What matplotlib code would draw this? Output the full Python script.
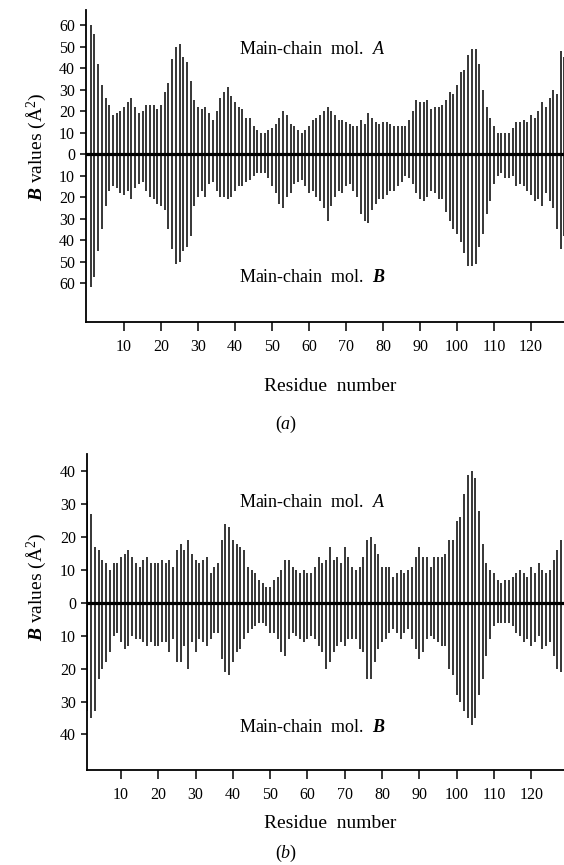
import numpy as np
import matplotlib
matplotlib.use('Agg')
import matplotlib.pyplot as plt

plt.rcParams['font.family'] = ['Liberation Serif', 'DejaVu Serif']
plt.rcParams['mathtext.fontset'] = 'custom'
plt.rcParams['mathtext.rm'] = 'Liberation Serif'
plt.rcParams['mathtext.it'] = 'Liberation Serif:italic'
plt.rcParams['mathtext.bf'] = 'Liberation Serif:bold:italic'

residues = np.arange(1, 130)

# Panel (a): main-chain B values, mol. A (up) and mol. B (down)
a_molA = [60, 56, 42, 32, 26, 23, 18, 19, 20, 22, 24, 26, 22, 19, 20, 23, 23, 23, 21, 23,
          29, 33, 44, 50, 51, 45, 43, 34, 25, 22, 21, 22, 19, 16, 20, 26, 29, 31, 27, 24,
          22, 21, 17, 17, 13, 11, 10, 10, 11, 12, 14, 17, 20, 18, 14, 13, 11, 10, 11, 13,
          16, 17, 18, 20, 22, 20, 18, 16, 16, 15, 14, 13, 13, 16, 14, 19, 17, 15, 14, 15,
          15, 14, 13, 13, 13, 13, 16, 20, 25, 24, 24, 25, 21, 22, 22, 23, 25, 29, 28, 32,
          38, 39, 46, 49, 49, 42, 30, 22, 17, 13, 10, 10, 10, 10, 12, 15, 15, 16, 15, 18,
          17, 20, 24, 22, 26, 30, 28, 48, 45]
a_molB = [62, 57, 45, 35, 24, 17, 15, 16, 18, 19, 17, 21, 16, 14, 13, 17, 20, 21, 23, 24,
          26, 35, 44, 51, 50, 45, 43, 38, 24, 20, 17, 20, 14, 13, 17, 20, 20, 21, 20, 17,
          15, 15, 13, 12, 10, 9, 9, 9, 11, 15, 18, 23, 25, 20, 18, 14, 13, 12, 15, 18,
          17, 20, 22, 25, 31, 24, 20, 17, 18, 15, 14, 17, 20, 28, 31, 32, 26, 23, 21, 21,
          19, 17, 17, 15, 13, 10, 11, 14, 18, 21, 22, 20, 17, 18, 21, 21, 27, 31, 35, 37,
          41, 46, 52, 52, 51, 43, 37, 28, 22, 14, 10, 9, 11, 11, 10, 15, 14, 15, 17, 19,
          22, 21, 24, 18, 22, 25, 35, 44, 38]

# Panel (b)
b_molA = [31, 27, 17, 16, 13, 12, 10, 12, 12, 14, 15, 16, 14, 12, 11, 13, 14, 12, 12, 12,
          13, 12, 13, 11, 16, 18, 16, 19, 15, 13, 12, 13, 14, 9, 11, 12, 19, 24, 23, 19,
          18, 17, 16, 11, 10, 9, 7, 6, 5, 5, 7, 8, 10, 13, 13, 11, 10, 9, 10, 9,
          9, 11, 14, 12, 13, 17, 13, 14, 12, 17, 14, 11, 10, 11, 14, 19, 20, 18, 15, 11,
          11, 11, 8, 9, 10, 9, 10, 11, 14, 17, 14, 14, 11, 14, 14, 14, 15, 19, 19, 25,
          26, 33, 39, 40, 38, 28, 18, 12, 10, 9, 7, 6, 7, 7, 8, 9, 10, 9, 8, 11,
          9, 12, 10, 9, 10, 13, 16, 19, 17]
b_molB = [33, 35, 33, 23, 20, 18, 15, 10, 9, 12, 14, 13, 10, 11, 11, 12, 13, 12, 13, 13,
          12, 12, 15, 11, 18, 18, 13, 20, 12, 15, 11, 12, 13, 11, 9, 9, 17, 21, 22, 18,
          15, 14, 11, 9, 8, 7, 6, 6, 7, 9, 9, 11, 15, 16, 11, 9, 10, 11, 12, 11,
          10, 11, 13, 15, 20, 18, 15, 13, 12, 13, 11, 11, 11, 14, 15, 23, 23, 18, 14, 12,
          11, 9, 8, 9, 11, 9, 8, 11, 14, 17, 15, 11, 10, 11, 12, 13, 13, 20, 22, 28,
          30, 33, 35, 37, 35, 28, 23, 16, 11, 7, 6, 6, 6, 6, 7, 9, 10, 12, 11, 13,
          12, 10, 14, 13, 12, 16, 20, 21, 19]

a_yticks = [60, 50, 40, 30, 20, 10, 0, -10, -20, -30, -40, -50, -60]
b_yticks = [40, 30, 20, 10, 0, -10, -20, -30, -40]
xticks = [10, 20, 30, 40, 50, 60, 70, 80, 90, 100, 110, 120]

W, H = 564, 865
fig = plt.figure(figsize=(W / 100, H / 100), dpi=100)


def px_axes(left, top, right, bottom):
    return fig.add_axes([left / W, 1 - bottom / H, (right - left) / W, (bottom - top) / H])


def panel(ax, up, down, yticks, xlim, ylim):
    for s in ('top', 'right'):
        ax.spines[s].set_visible(False)
    for s in ('left', 'bottom'):
        ax.spines[s].set_linewidth(1.3)
    ax.vlines(residues, 0, up, colors='k', linewidth=1.1)
    ax.vlines(residues, [-v for v in down], 0, colors='k', linewidth=1.1)
    ax.axhline(0, color='k', linewidth=2.3)
    ax.set_xlim(*xlim)
    ax.set_ylim(*ylim)
    ax.set_yticks(yticks)
    ax.set_yticklabels([str(abs(v)) for v in yticks])
    ax.set_xticks(xticks)
    ax.set_xticklabels([str(v) for v in xticks])
    ax.tick_params(axis='y', direction='out', length=4.5, width=1.1, pad=3.5, labelsize=11.5)
    ax.tick_params(axis='x', direction='out', length=6.5, width=1.1, pad=6, labelsize=11.5)


ax1 = px_axes(86, 10, 564, 322)
panel(ax1, a_molA, a_molB, a_yticks, (-0.27, 128.9), (-78.1, 67.0))

ax2 = px_axes(87, 454, 564, 770)
panel(ax2, b_molA, b_molB, b_yticks, (0.88, 128.8), (-50.8, 45.3))


def ftext(x, y, s, **kw):
    fig.text(x / W, 1 - y / H, s, ha='center', va='center', **kw)


ylab = r'$\mathbf{B}$ values (Å$^{2}$)'
ftext(36, 147, ylab, rotation=90, fontsize=14)
ftext(36, 587, ylab, rotation=90, fontsize=14)

ftext(312, 50, r'Main-chain  mol.  $A$', fontsize=13)
ftext(312, 277, r'Main-chain  mol.  $\mathbf{B}$', fontsize=13)
ftext(312, 502, r'Main-chain  mol.  $A$', fontsize=13)
ftext(312, 728, r'Main-chain  mol.  $\mathbf{B}$', fontsize=13)

ftext(330, 387, 'Residue  number', fontsize=14)
ftext(330, 823, 'Residue  number', fontsize=14)
ftext(286, 424, r'($a$)', fontsize=13)
ftext(286, 853, r'($b$)', fontsize=13)

fig.savefig('out.png', dpi=100)
